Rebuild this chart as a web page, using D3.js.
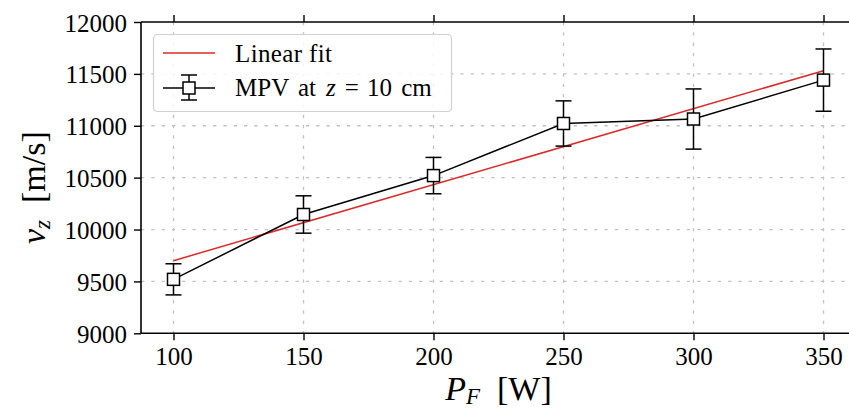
<!DOCTYPE html>
<html>
<head>
<meta charset="utf-8">
<script src="https://cdn.jsdelivr.net/npm/d3@7"></script>
<style>
  html, body { margin: 0; padding: 0; background: #fff; }
  svg { display: block; font-family: "Liberation Serif", "DejaVu Serif", serif; }
</style>
</head>
<body>
<svg id="chart" width="849" height="412"></svg>
<script>
// ---- data ----
const powers = [100, 150, 200, 250, 300, 350];
const mpv = [9520, 10145, 10520, 11022, 11065, 11440];
const mpvErr = [150, 180, 175, 218, 290, 300];
const fitX = [100, 350];
const fitY = [9700, 11531];
const xTicks = [100, 150, 200, 250, 300, 350];
const yTicks = [9000, 9500, 10000, 10500, 11000, 11500, 12000];
const legendLabels = ["Linear fit", "MPV at z = 10 cm"];

// ---- layout ----
const svg = d3.select("#chart");
const pLeft = 141, pRight = 856, pTop = 22, pBottom = 333.3;
const x = d3.scaleLinear().domain([87.5, 362.5]).range([pLeft, pRight]);
const y = d3.scaleLinear().domain([9000, 12000]).range([pBottom, pTop]);
const red = "#dc2a2a";

// grid
const grid = svg.append("g").attr("stroke", "#c2c2c2").attr("stroke-width", 1.3)
  .attr("stroke-dasharray", "3.3,7");
grid.selectAll("line.gx").data(xTicks).join("line")
  .attr("x1", d => x(d)).attr("x2", d => x(d)).attr("y1", pTop).attr("y2", pBottom);
grid.selectAll("line.gy").data(yTicks.slice(1, -1)).join("line")
  .attr("y1", d => y(d)).attr("y2", d => y(d)).attr("x1", pLeft).attr("x2", pRight);

// axes
const fs = 25;
const xAxis = d3.axisBottom(x).tickValues(xTicks).tickSize(7).tickPadding(6).tickFormat(d3.format("d"));
const yAxis = d3.axisLeft(y).tickValues(yTicks).tickSize(7).tickPadding(7).tickFormat(d3.format("d"));
const xTopAxis = d3.axisTop(x).tickValues(xTicks).tickSize(7).tickFormat("");
const yRightAxis = d3.axisRight(y).tickValues(yTicks).tickSize(7).tickFormat("");

function styleAxis(g) {
  g.select(".domain").attr("stroke", "#000").attr("stroke-width", 1.6);
  g.selectAll(".tick line").attr("stroke", "#000").attr("stroke-width", 1.4);
  g.selectAll(".tick text").attr("fill", "#000").style("font-size", fs + "px")
    .style("font-family", "'Liberation Serif', serif");
}
const gx = svg.append("g").attr("transform", `translate(0,${pBottom})`).call(xAxis).call(styleAxis);
gx.select(".domain").attr("d", `M${pLeft},0H${pRight}`);
gx.selectAll(".tick text").attr("dy", "0.74em");
const gy = svg.append("g").attr("transform", `translate(${pLeft},0)`).call(yAxis).call(styleAxis);
gy.select(".domain").attr("d", `M0,${pBottom}V${pTop}`);
gy.selectAll(".tick text").attr("dy", "0.36em");
const gt = svg.append("g").attr("transform", `translate(0,${pTop})`).call(xTopAxis).call(styleAxis);
gt.select(".domain").attr("d", `M${pLeft},0H${pRight}`);
const gr = svg.append("g").attr("transform", `translate(${pRight},0)`).call(yRightAxis).call(styleAxis);

// linear fit
svg.append("path")
  .datum(fitX.map((d, i) => [d, fitY[i]]))
  .attr("fill", "none").attr("stroke", red).attr("stroke-width", 1.5)
  .attr("d", d3.line().x(d => x(d[0])).y(d => y(d[1])));

// data line
const pts = powers.map((p, i) => ({ p, v: mpv[i], e: mpvErr[i] }));
svg.append("path").datum(pts)
  .attr("fill", "none").attr("stroke", "#000").attr("stroke-width", 1.5)
  .attr("d", d3.line().x(d => x(d.p)).y(d => y(d.v)));

// error bars
const cap = 8;
const eb = svg.append("g").attr("stroke", "#000").attr("stroke-width", 1.5);
eb.selectAll("line.v").data(pts).join("line")
  .attr("x1", d => x(d.p)).attr("x2", d => x(d.p))
  .attr("y1", d => y(d.v - d.e)).attr("y2", d => y(d.v + d.e));
eb.selectAll("line.t").data(pts).join("line")
  .attr("x1", d => x(d.p) - cap).attr("x2", d => x(d.p) + cap)
  .attr("y1", d => y(d.v + d.e)).attr("y2", d => y(d.v + d.e));
eb.selectAll("line.b").data(pts).join("line")
  .attr("x1", d => x(d.p) - cap).attr("x2", d => x(d.p) + cap)
  .attr("y1", d => y(d.v - d.e)).attr("y2", d => y(d.v - d.e));

// markers
const ms = 12;
svg.append("g").selectAll("rect").data(pts).join("rect")
  .attr("x", d => x(d.p) - ms / 2).attr("y", d => y(d.v) - ms / 2)
  .attr("width", ms).attr("height", ms)
  .attr("fill", "#fff").attr("stroke", "#000").attr("stroke-width", 1.5);

// legend
const lg = svg.append("g");
lg.append("rect").attr("x", 153.5).attr("y", 34.5).attr("width", 298).attr("height", 77)
  .attr("rx", 4).attr("fill", "#fff").attr("fill-opacity", 0.85)
  .attr("stroke", "#d0d0d0").attr("stroke-width", 1.2);
lg.append("line").attr("x1", 163).attr("x2", 215).attr("y1", 53).attr("y2", 53)
  .attr("stroke", red).attr("stroke-width", 1.5);
lg.append("text").attr("x", 235).attr("y", 62).style("font-size", fs + "px")
  .attr("textLength", 97).attr("lengthAdjust", "spacing").text(legendLabels[0]);
const ly = 88;
lg.append("line").attr("x1", 163).attr("x2", 215).attr("y1", ly).attr("y2", ly)
  .attr("stroke", "#000").attr("stroke-width", 1.5);
lg.append("line").attr("x1", 189).attr("x2", 189).attr("y1", ly - 13).attr("y2", ly + 12)
  .attr("stroke", "#000").attr("stroke-width", 1.5);
[ly - 13, ly + 12].forEach(yy => lg.append("line").attr("x1", 181).attr("x2", 197)
  .attr("y1", yy).attr("y2", yy).attr("stroke", "#000").attr("stroke-width", 1.5));
lg.append("rect").attr("x", 189 - ms / 2).attr("y", ly - ms / 2).attr("width", ms).attr("height", ms)
  .attr("fill", "#fff").attr("stroke", "#000").attr("stroke-width", 1.5);
const t2 = lg.append("text").attr("x", 235).attr("y", 96).style("font-size", fs + "px")
  .style("word-spacing", "3px");
t2.append("tspan").text("MPV at");
t2.append("tspan").attr("dx", 10).style("font-style", "italic").text("z");
t2.append("tspan").attr("dx", 9).text("=");
t2.append("tspan").attr("dx", 8).text("10 cm");

// axis labels
const xl = svg.append("text").attr("x", (pLeft + pRight) / 2).attr("y", 400)
  .attr("text-anchor", "middle").style("font-size", "34px");
xl.append("tspan").style("font-style", "italic").text("P");
xl.append("tspan").style("font-style", "italic").style("font-size", "23px").attr("dy", 4).text("F");
xl.append("tspan").attr("dy", -4).text("\u2002[W]");

const yl = svg.append("text").attr("transform", `translate(45,${(pTop + pBottom) / 2 + 10}) rotate(-90)`)
  .attr("text-anchor", "middle").style("font-size", "34px");
yl.append("tspan").style("font-style", "italic").text("v");
yl.append("tspan").style("font-style", "italic").style("font-size", "23px").attr("dy", 5).text("z");
yl.append("tspan").attr("dy", -5).text("\u2002[m/s]");
</script>
</body>
</html>
